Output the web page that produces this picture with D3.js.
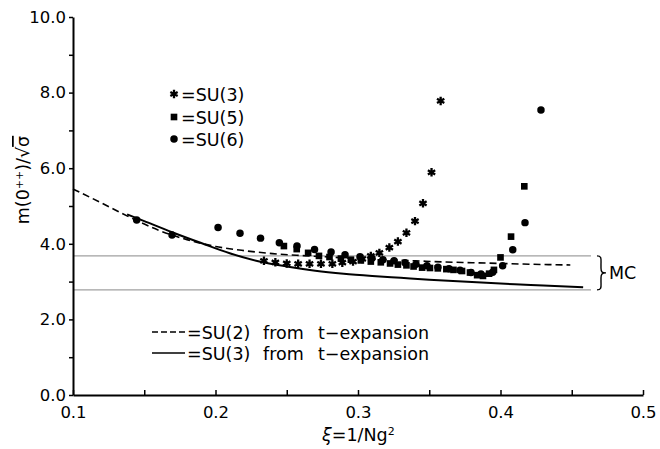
<!DOCTYPE html>
<html>
<head>
<meta charset="utf-8">
<script src="https://cdn.jsdelivr.net/npm/d3@7"></script>
<style>
  body { margin: 0; background: #fff; }
  svg text { font-family: "DejaVu Sans", sans-serif; fill: #000; }
</style>
</head>
<body>
<div id="chart"></div>
<script>
// glueball mass m(0++)/sqrt(sigma) vs xi = 1/Ng^2

// SU(3) data (stars)
var xiSU3 = [0.234, 0.242, 0.250, 0.258, 0.266, 0.274, 0.282, 0.289, 0.2965, 0.303,
             0.309, 0.315, 0.322, 0.328, 0.334, 0.340, 0.3456, 0.3516, 0.358];
var mSU3  = [3.55, 3.51, 3.48, 3.47, 3.47, 3.47, 3.47, 3.50, 3.53, 3.60,
             3.68, 3.76, 3.90, 4.06, 4.29, 4.60, 5.07, 5.89, 7.78];

// SU(5) data (squares)
var xiSU5 = [0.248, 0.257, 0.265, 0.2726, 0.280, 0.288, 0.295, 0.302, 0.309, 0.316,
             0.3225, 0.328, 0.334, 0.339, 0.345, 0.3505, 0.356, 0.362, 0.367, 0.373,
             0.3786, 0.3836, 0.3877, 0.392, 0.3954, 0.400, 0.4074, 0.4167];
var mSU5  = [3.94, 3.86, 3.76, 3.68, 3.65, 3.61, 3.58, 3.56, 3.53, 3.51,
             3.48, 3.45, 3.43, 3.40, 3.37, 3.36, 3.35, 3.33, 3.31, 3.28,
             3.24, 3.17, 3.15, 3.21, 3.31, 3.64, 4.19, 5.52];

// SU(6) data (circles)
var xiSU6 = [0.1447, 0.1695, 0.2018, 0.2172, 0.2316, 0.2448, 0.2572, 0.2695, 0.2811, 0.2909,
             0.3014, 0.3098, 0.3175, 0.3253, 0.333, 0.3407, 0.3484, 0.3561, 0.3639, 0.3716,
             0.3793, 0.3863, 0.3945, 0.4015, 0.4086, 0.4172, 0.4284];
var mSU6  = [4.63, 4.23, 4.43, 4.28, 4.15, 4.03, 3.94, 3.85, 3.78, 3.71,
             3.66, 3.62, 3.58, 3.55, 3.50, 3.46, 3.42, 3.38, 3.34, 3.30,
             3.24, 3.20, 3.25, 3.42, 3.84, 4.56, 7.54];

// t-expansion curves
var xiSU2t = [0.100, 0.120, 0.140, 0.160, 0.180, 0.200, 0.220, 0.240, 0.260, 0.280,
              0.300, 0.320, 0.340, 0.360, 0.380, 0.400, 0.420, 0.449];
var mSU2t  = [5.45, 5.08, 4.70, 4.36, 4.11, 3.93, 3.82, 3.74, 3.69, 3.65,
              3.61, 3.58, 3.55, 3.52, 3.50, 3.48, 3.46, 3.44];

var xiSU3t = [0.138, 0.150, 0.170, 0.190, 0.210, 0.230, 0.250, 0.270, 0.290, 0.310,
              0.330, 0.350, 0.370, 0.390, 0.410, 0.430, 0.458];
var mSU3t  = [4.78, 4.60, 4.30, 4.02, 3.75, 3.54, 3.40, 3.29, 3.21, 3.15,
              3.10, 3.05, 3.01, 2.97, 2.93, 2.90, 2.85];

// Monte Carlo band
var mcBand = [2.78, 3.68];
var mcXi = [0.1, 0.4635];

var xTicks = [0.1, 0.2, 0.3, 0.4, 0.5];
var xMinor = [0.15, 0.25, 0.35, 0.45];
var yTicks = [0, 2, 4, 6, 8, 10];
var yMinor = [1, 3, 5, 7, 9];

var width = 660, height = 449;

var svg = d3.select("#chart")
  .append("svg")
    .attr("width", width)
    .attr("height", height);

var x = d3.scaleLinear().domain([0.1, 0.5]).range([73, 643]);
var y = d3.scaleLinear().domain([0, 10]).range([395, 17]);

// MC band lines
svg.selectAll(".mc")
  .data(mcBand)
  .enter()
  .append("line")
    .attr("x1", x(mcXi[0]))
    .attr("x2", x(mcXi[1]))
    .attr("y1", function(d) { return y(d) })
    .attr("y2", function(d) { return y(d) })
    .style("stroke", "#a0a0a0")
    .style("stroke-width", 1.2);

// brace + MC label
var bx = x(mcXi[1]) + 6, by0 = y(mcBand[1]), by1 = y(mcBand[0]), bm = (by0 + by1) / 2;
svg.append("path")
  .attr("d", "M" + bx + "," + by0 +
       " C" + (bx + 5) + "," + by0 + " " + (bx + 4) + "," + (by0 + 3) + " " + (bx + 4) + "," + (by0 + 9) +
       " L" + (bx + 4) + "," + (bm - 5) +
       " C" + (bx + 4) + "," + (bm - 1) + " " + (bx + 5) + "," + bm + " " + (bx + 9) + "," + bm +
       " C" + (bx + 5) + "," + bm + " " + (bx + 4) + "," + (bm + 1) + " " + (bx + 4) + "," + (bm + 5) +
       " L" + (bx + 4) + "," + (by1 - 9) +
       " C" + (bx + 4) + "," + (by1 - 3) + " " + (bx + 5) + "," + by1 + " " + bx + "," + by1)
  .style("fill", "none")
  .style("stroke", "#000")
  .style("stroke-width", 1.4);
svg.append("text")
  .attr("x", bx + 12)
  .attr("y", bm + 6)
  .style("font-size", "17.5px")
  .text("MC");

// curves
var line = d3.line()
  .x(function(d) { return x(d[0]) })
  .y(function(d) { return y(d[1]) })
  .curve(d3.curveMonotoneX);

svg.append("path")
  .datum(d3.zip(xiSU2t, mSU2t))
  .attr("d", line)
  .style("fill", "none")
  .style("stroke", "#000")
  .style("stroke-width", 1.6)
  .style("stroke-dasharray", "7,4");

svg.append("path")
  .datum(d3.zip(xiSU3t, mSU3t))
  .attr("d", line)
  .style("fill", "none")
  .style("stroke", "#000")
  .style("stroke-width", 2);

// points
var star = d3.symbol().type(d3.symbolAsterisk).size(50);
var square = d3.symbol().type(d3.symbolSquare).size(44);
var circle = d3.symbol().type(d3.symbolCircle).size(44);

svg.selectAll(".su6")
  .data(d3.zip(xiSU6, mSU6))
  .enter()
  .append("path")
    .attr("d", circle)
    .attr("transform", function(d) { return "translate(" + x(d[0]) + "," + y(d[1]) + ")" })
    .style("fill", "#000");

svg.selectAll(".su5")
  .data(d3.zip(xiSU5, mSU5))
  .enter()
  .append("path")
    .attr("d", square)
    .attr("transform", function(d) { return "translate(" + x(d[0]) + "," + y(d[1]) + ")" })
    .style("fill", "#000");

svg.selectAll(".su3")
  .data(d3.zip(xiSU3, mSU3))
  .enter()
  .append("path")
    .attr("d", star)
    .attr("transform", function(d) { return "translate(" + x(d[0]) + "," + y(d[1]) + ")" })
    .style("fill", "none")
    .style("stroke", "#000")
    .style("stroke-width", 2.3);

// axes
svg.append("g")
  .attr("transform", "translate(" + x(0.1) + ",0)")
  .call(d3.axisLeft(y).tickValues(yTicks).tickFormat(d3.format(".1f"))
          .tickSize(4).tickPadding(3).tickSizeOuter(0));
svg.append("g")
  .attr("transform", "translate(" + x(0.1) + ",0)")
  .call(d3.axisLeft(y).tickValues(yMinor).tickFormat("").tickSize(4).tickSizeOuter(0))
  .select(".domain").remove();

svg.append("g")
  .attr("transform", "translate(0," + y(0) + ")")
  .call(d3.axisBottom(x).tickValues(xTicks).tickFormat(d3.format(".1f"))
          .tickSize(-5).tickPadding(11).tickSizeOuter(0));
svg.append("g")
  .attr("transform", "translate(0," + y(0) + ")")
  .call(d3.axisBottom(x).tickValues(xMinor).tickFormat("").tickSize(-5).tickSizeOuter(0))
  .select(".domain").remove();

svg.selectAll(".domain").style("stroke-width", 2);
svg.selectAll(".tick line").style("stroke-width", 1.5);
svg.selectAll(".tick text")
  .style("font-size", "16.5px")
  .style("font-family", "DejaVu Sans, sans-serif");

// axis titles
var yTitle = svg.append("text")
  .attr("transform", "translate(29,180) rotate(-90)")
  .attr("text-anchor", "middle")
  .style("font-size", "17.5px");
yTitle.append("tspan").text("m(0");
yTitle.append("tspan").attr("baseline-shift", "super").style("font-size", "11px").text("++");
yTitle.append("tspan").text(")/√");
yTitle.append("tspan").style("text-decoration", "overline").text("σ");

var xTitle = svg.append("text")
  .attr("x", 322)
  .attr("y", 441)
  .style("font-size", "17.5px");
xTitle.append("tspan").style("font-style", "italic").text("ξ");
xTitle.append("tspan").text("=1/Ng");
xTitle.append("tspan").attr("baseline-shift", "super").style("font-size", "11px").text("2");

// legend (points)
var legPts = [
  { sym: "star", label: "=SU(3)", yy: 94 },
  { sym: "square", label: "=SU(5)", yy: 117 },
  { sym: "circle", label: "=SU(6)", yy: 139 }
];
legPts.forEach(function(l) {
  var p = svg.append("path")
    .attr("transform", "translate(174," + l.yy + ")");
  if (l.sym == "star") {
    p.attr("d", star).style("fill", "none").style("stroke", "#000").style("stroke-width", 2.3);
  } else if (l.sym == "square") {
    p.attr("d", square).style("fill", "#000");
  } else {
    p.attr("d", circle).style("fill", "#000");
  }
  svg.append("text")
    .attr("x", 181)
    .attr("y", l.yy + 6.5)
    .style("font-size", "17.5px")
    .text(l.label);
});

// legend (curves)
var legLines = [
  { dash: "6,3", label: "=SU(2)", yy: 332 },
  { dash: null, label: "=SU(3)", yy: 353 }
];
legLines.forEach(function(l) {
  svg.append("line")
    .attr("x1", 152).attr("x2", 185)
    .attr("y1", l.yy).attr("y2", l.yy)
    .style("stroke", "#000")
    .style("stroke-width", 1.5)
    .style("stroke-dasharray", l.dash);
  svg.append("text").attr("x", 187).attr("y", l.yy + 6.5).style("font-size", "17.5px").text(l.label);
  svg.append("text").attr("x", 263).attr("y", l.yy + 6.5).style("font-size", "17.5px").text("from");
  svg.append("text").attr("x", 318).attr("y", l.yy + 6.5).style("font-size", "17.5px").text("t−expansion");
});
</script>
</body>
</html>
